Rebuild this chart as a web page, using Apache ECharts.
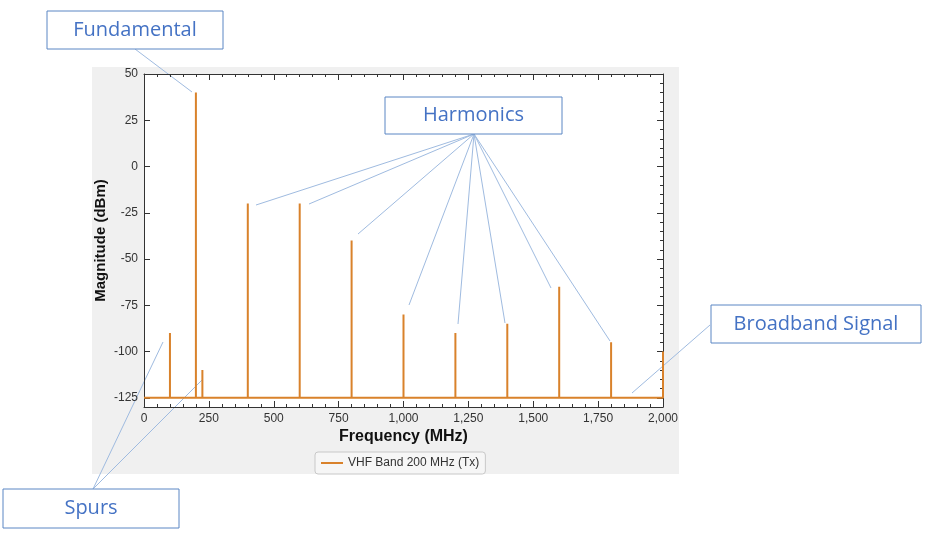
<!DOCTYPE html>
<html>
<head>
<meta charset="utf-8">
<script src="https://cdn.jsdelivr.net/npm/echarts@6/dist/echarts.min.js"></script>
<style>
  html, body { margin: 0; padding: 0; background: #fff; }
  #chart { width: 928px; height: 535px; }
</style>
</head>
<body>
<div id="chart"></div>
<script>
// spectrum: spikes rising from the broadband floor
const floorLevel = -125
const spikeFreqs = [100, 200, 225, 400, 600, 800, 1000, 1200, 1400, 1600, 1800, 2000]
const spikeMags = [-90, 40, -110, -20, -20, -40, -80, -90, -85, -65, -95, -100]
const xTicks = [0, 250, 500, 750, 1000, 1250, 1500, 1750, 2000]
const yTicks = [-125, -100, -75, -50, -25, 0, 25, 50]
const seriesName = 'VHF Band 200 MHz (Tx)'

const lineData = [[0, floorLevel]]
spikeFreqs.forEach((f, i) => {
  lineData.push([f, floorLevel])
  lineData.push([f, spikeMags[i]])
  lineData.push([f, floorLevel])
})

const axisColor = '#333'
const labelFont = { color: '#333', fontSize: 12, fontFamily: 'Liberation Sans' }
const nameFont = { color: '#111', fontSize: 16, fontWeight: 'bold', fontFamily: 'Liberation Sans' }
const boxBorder = '#5a86c4'
const connector = '#9fbbe0'
const noteFont = { fill: '#4472c4', fontSize: 20, fontFamily: 'Open Sans' }

const box = (x, y, w, h, text) => ({
  type: 'group',
  children: [
    { type: 'rect', shape: { x, y, width: w, height: h }, style: { fill: '#fff', stroke: boxBorder, lineWidth: 1 } },
    { type: 'text', x: x + w / 2, y: y + h / 2, style: Object.assign({ text, align: 'center', verticalAlign: 'middle' }, noteFont) }
  ]
})
const link = (x1, y1, x2, y2) => ({
  type: 'line', shape: { x1, y1, x2, y2 }, style: { stroke: connector, lineWidth: 1 }
})

const harmonicEnds = [[256, 205], [309, 204], [358, 234], [409, 305], [458, 324], [505, 323], [551, 288], [610, 341]]

const chart = echarts.init(document.getElementById('chart'))
chart.setOption({
  animation: false,
  backgroundColor: '#fff',
  grid: { left: 144, right: 265, top: 74, bottom: 128, show: true, backgroundColor: '#fff', borderWidth: 0 },
  legend: {
    left: 315, top: 452,
    padding: [5, 6],
    icon: 'rect',
    itemWidth: 22, itemHeight: 2,
    borderColor: '#c8c8c8', borderWidth: 1, borderRadius: 3,
    backgroundColor: '#f6f6f6',
    textStyle: labelFont,
    data: [seriesName]
  },
  xAxis: [
    {
      type: 'value', min: 0, max: 2000, interval: 250,
      name: 'Frequency (MHz)', nameLocation: 'middle', nameGap: 22, nameMoveOverlap: false, nameTextStyle: nameFont,
      axisLine: { onZero: false, lineStyle: { color: axisColor } },
      axisTick: { inside: true, length: 6, lineStyle: { color: axisColor } },
      minorTick: { show: true, splitNumber: 5, length: 3, lineStyle: { color: axisColor } },
      axisLabel: Object.assign({ margin: 6, formatter: v => String(v).replace(/\B(?=(\d{3})+(?!\d))/g, ',') }, labelFont),
      splitLine: { show: false }
    },
    {
      type: 'value', position: 'top', min: 0, max: 2000, interval: 250,
      axisLine: { onZero: false, lineStyle: { color: axisColor } },
      axisTick: { inside: true, length: 6, lineStyle: { color: axisColor } },
      minorTick: { show: true, splitNumber: 5, length: 3, lineStyle: { color: axisColor } },
      axisLabel: { show: false },
      splitLine: { show: false }
    }
  ],
  yAxis: [
    {
      type: 'value', min: -130, max: 50,
      name: 'Magnitude (dBm)', nameLocation: 'middle', nameGap: 36, nameMoveOverlap: false,
      nameTextStyle: Object.assign({}, nameFont, { fontSize: 15 }),
      axisLine: { show: true, onZero: false, lineStyle: { color: axisColor } },
      axisTick: { inside: true, length: 6, customValues: yTicks, lineStyle: { color: axisColor } },
      axisLabel: Object.assign({ margin: 6, customValues: yTicks }, labelFont),
      splitLine: { show: false }
    },
    {
      type: 'value', min: -130, max: 50, interval: 5,
      axisLine: { show: false, onZero: false },
      axisTick: { inside: true, length: 3, lineStyle: { color: axisColor } },
      axisLabel: { show: false },
      splitLine: { show: false }
    },
    {
      type: 'value', position: 'right', min: -130, max: 50,
      axisLine: { show: true, onZero: false, lineStyle: { color: axisColor } },
      axisTick: { inside: true, length: 6, customValues: yTicks, lineStyle: { color: axisColor } },
      axisLabel: { show: false },
      splitLine: { show: false }
    },
    {
      type: 'value', position: 'right', min: -130, max: 50, interval: 5,
      axisLine: { show: false, onZero: false },
      axisTick: { inside: true, length: 3, lineStyle: { color: axisColor } },
      axisLabel: { show: false },
      splitLine: { show: false }
    }
  ],
  series: [
    {
      name: seriesName,
      type: 'line',
      xAxisIndex: 0,
      yAxisIndex: 0,
      symbol: 'none',
      data: lineData,
      lineStyle: { color: '#d9822b', width: 2 },
      itemStyle: { color: '#d9822b' }
    }
  ],
  graphic: [
    { type: 'rect', z: -100, silent: true, shape: { x: 92, y: 67, width: 587, height: 407 }, style: { fill: '#f0f0f0' } },
    link(135, 49, 192, 92),
    ...harmonicEnds.map(p => link(474, 134, p[0], p[1])),
    link(710, 325, 632, 393),
    link(93, 489, 163, 342),
    link(93, 489, 202, 380),
    box(47, 11, 176, 38, 'Fundamental'),
    box(385, 97, 177, 37, 'Harmonics'),
    box(711, 305, 210, 38, 'Broadband Signal'),
    box(3, 489, 176, 39, 'Spurs')
  ]
})
</script>
</body>
</html>
